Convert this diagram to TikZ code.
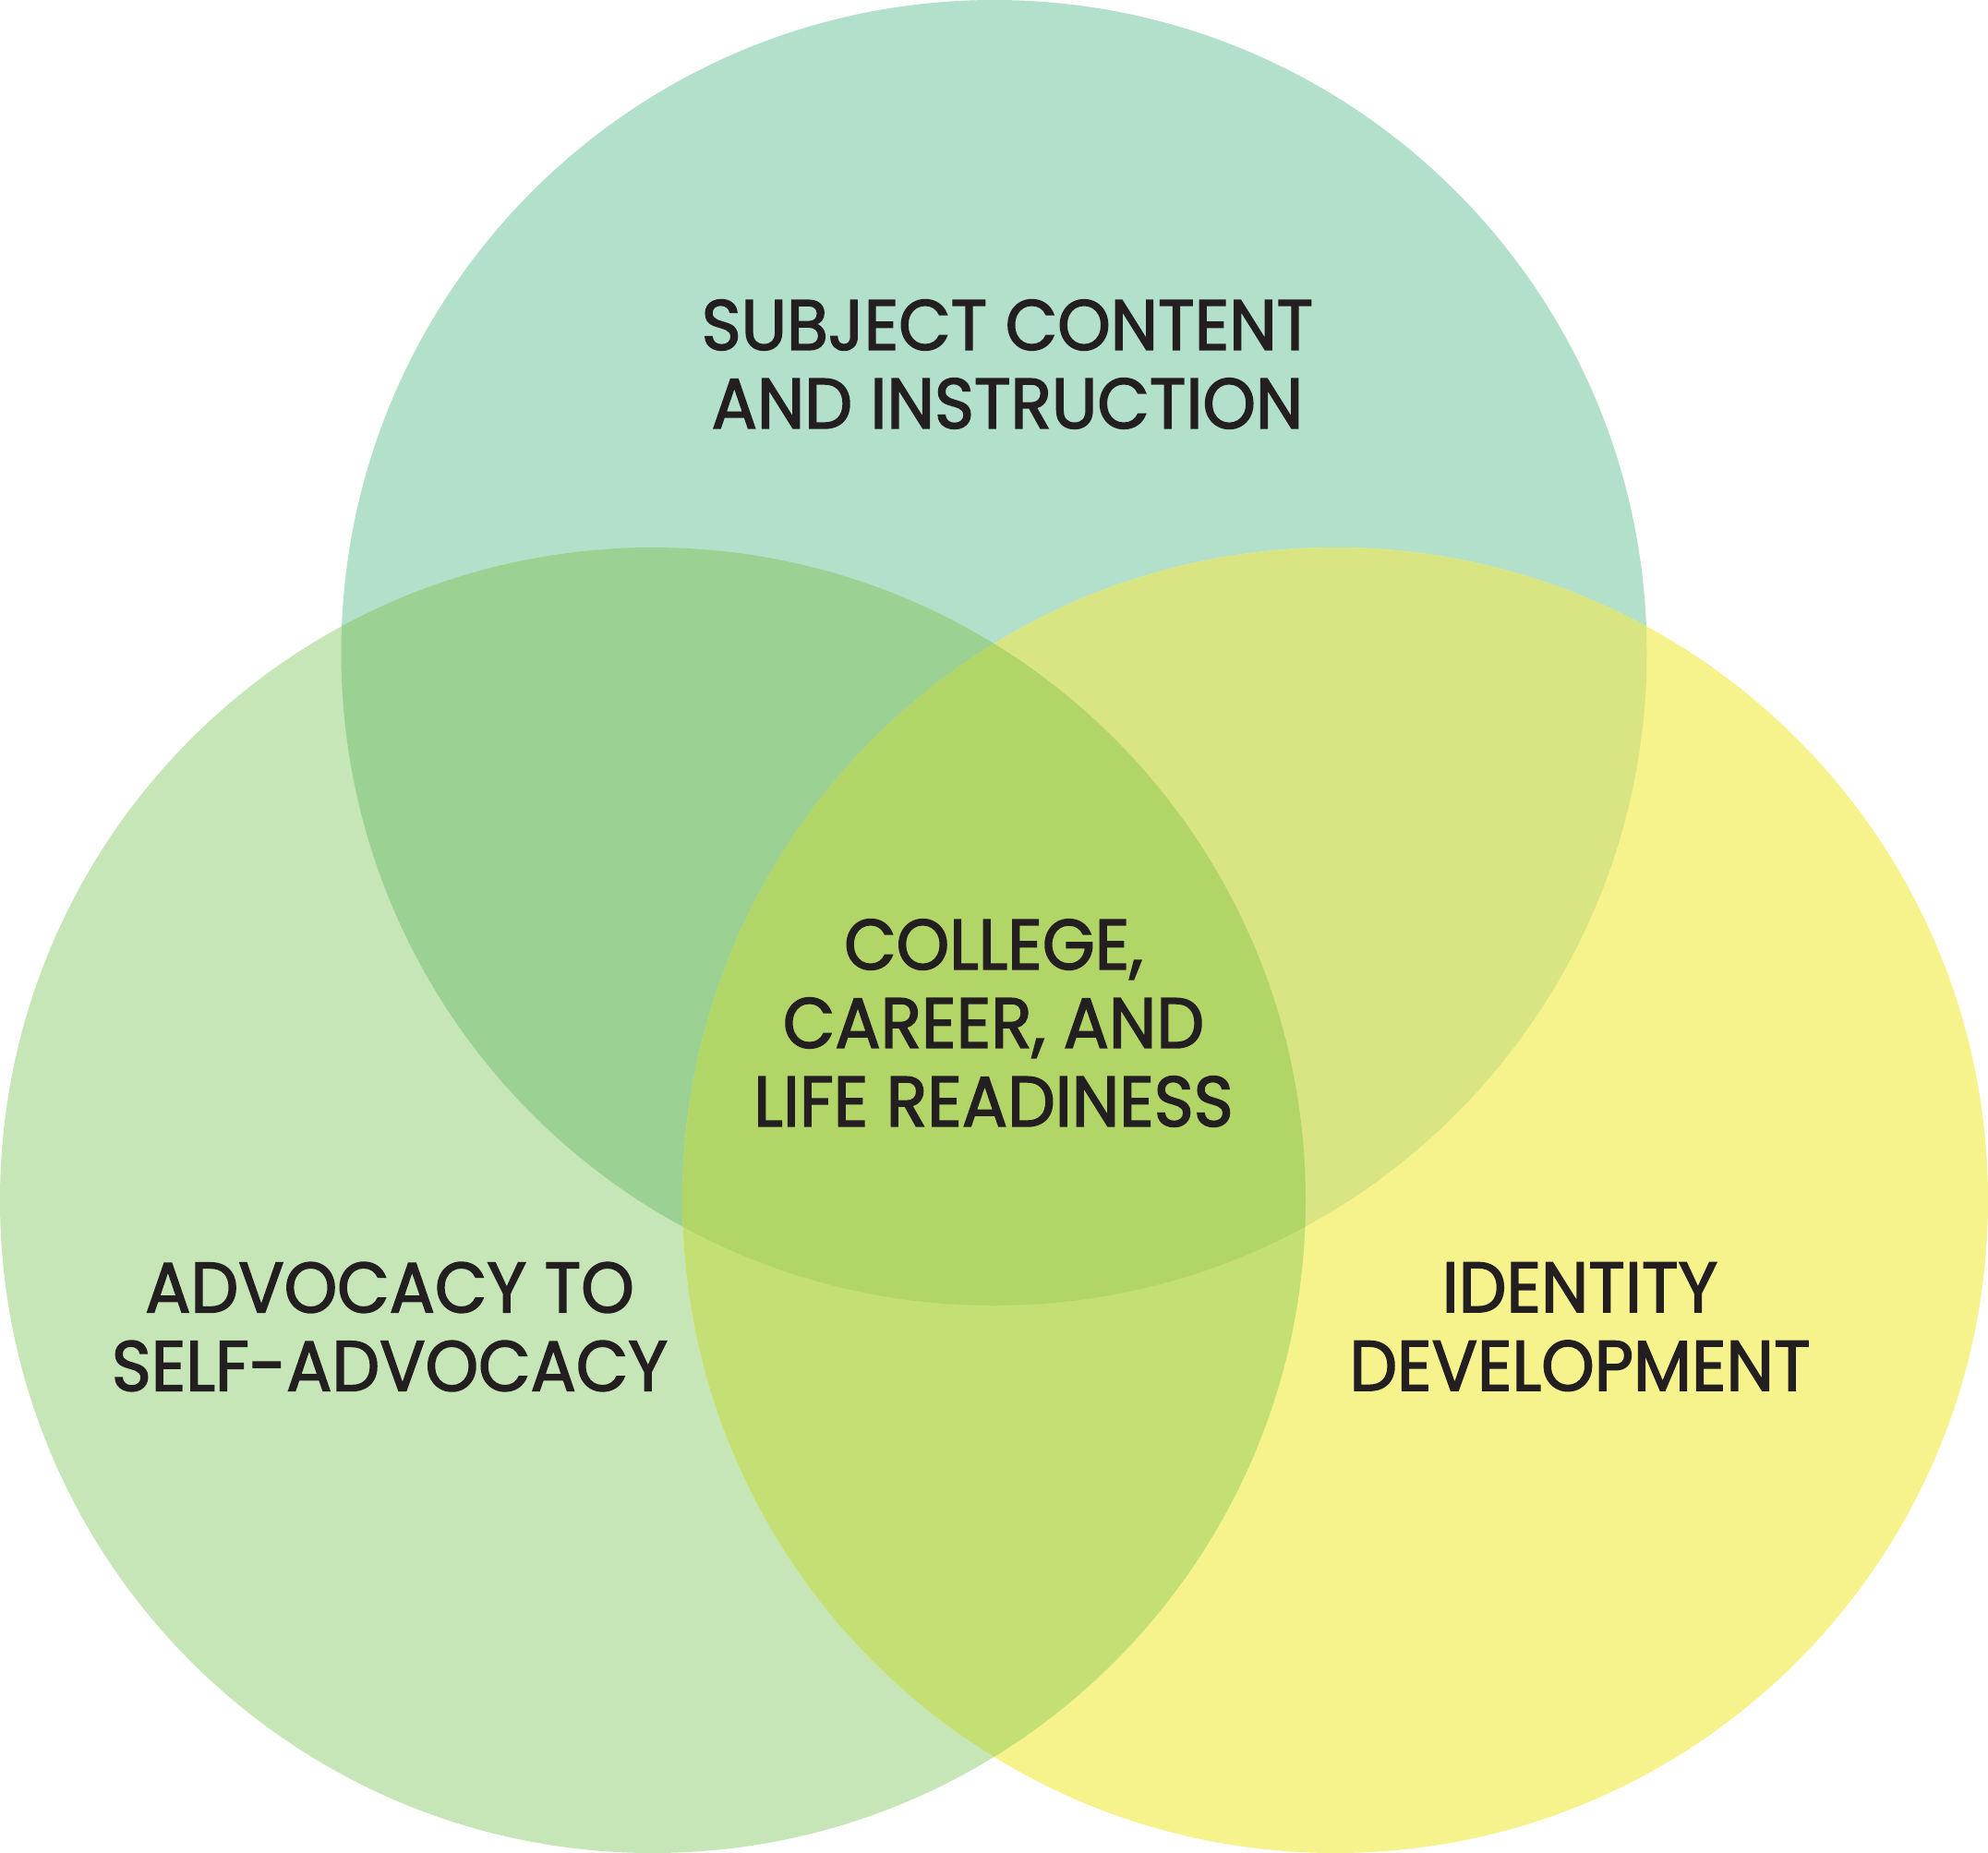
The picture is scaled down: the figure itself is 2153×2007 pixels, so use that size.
\documentclass[tikz,border=0pt]{standalone}
\usepackage{fontspec}
\newfontfamily\lblfont{Poppins}[FakeStretch=0.95,FakeBold=2]
\definecolor{cT}{HTML}{B3E0CA}
\definecolor{cL}{HTML}{C6E6B7}
\definecolor{cR}{HTML}{F6F38D}
\definecolor{cTL}{HTML}{9BD192}
\definecolor{cTR}{HTML}{D9E583}
\definecolor{cLR}{HTML}{C4DF74}
\definecolor{cC}{HTML}{B1D567}
\definecolor{ink}{HTML}{231F20}
\tikzset{
  lbl/.style={inner sep=0pt, align=center, text=ink,
    font=\lblfont\fontsize{77}{85}\selectfont},
  ring/.style={radius=707pt}
}
\begin{document}
\begin{tikzpicture}[x=1pt,y=-1pt]
\useasboundingbox (0,0) rectangle (2153,2007);
\coordinate (T) at (1076.5,707);
\coordinate (L) at (707,1300);
\coordinate (R) at (1446,1300);
\fill[cT] (T) circle[ring];
\fill[cL] (L) circle[ring];
\fill[cR] (R) circle[ring];
\begin{scope}
  \clip (L) circle[ring];
  \fill[cLR] (R) circle[ring];
\end{scope}
\begin{scope}
  \clip (T) circle[ring];
  \fill[cTL] (L) circle[ring];
  \fill[cTR] (R) circle[ring];
  \clip (L) circle[ring];
  \fill[cC] (R) circle[ring];
\end{scope}
\node[lbl] (subj) at (1091,394.5) {SUBJECT CONTENT\\AND INSTRUCTION};
\node[lbl] (ccl) at (1076,1108) {COLLEGE,\\CAREER, AND\\LIFE READINESS};
\node[lbl] (adv) at (422,1437) {ADVOCACY TO\\SELF-ADVOCACY};
\node[lbl] (idd) at (1711,1437) {IDENTITY\\DEVELOPMENT};
\end{tikzpicture}
\end{document}
